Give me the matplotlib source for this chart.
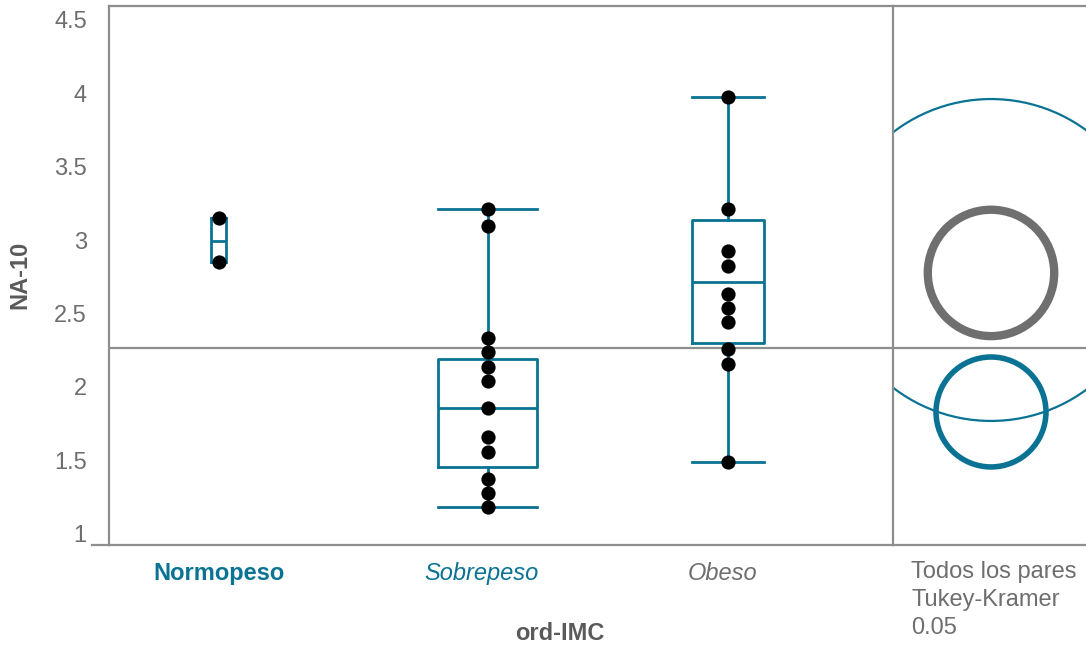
import numpy as np
import matplotlib
matplotlib.use("Agg")
from matplotlib import pyplot as plt
from matplotlib.patches import Circle
from matplotlib.lines import Line2D
import matplotlib.transforms as mtransforms

plt.rcParams['font.family'] = ['Liberation Sans', 'DejaVu Sans']

# datos
grupos = ["Normopeso", "Sobrepeso", "Obeso"]
normopeso = [3.148, 2.848]
sobrepeso = [3.209, 3.097, 2.331, 2.236, 2.138, 2.043, 1.855, 1.658, 1.560, 1.374, 1.277, 1.186]
obeso = [3.975, 3.211, 2.925, 2.825, 2.633, 2.535, 2.442, 2.256, 2.154, 1.492]

# cuartiles de las cajas (q1, mediana, q3, bigote inf, bigote sup)
q1 = [2.848, 1.458, 2.297]
mediana = [2.995, 1.855, 2.716]
q3 = [3.148, 2.188, 3.136]
bigote_inf = [2.848, 1.186, 1.492]
bigote_sup = [3.148, 3.209, 3.975]

media_global = 2.265

# circulos de comparacion (centro, radio)
circ_centro = [2.864, 2.776, 1.830]
circ_radio = [1.095, 0.430, 0.374]

yticks = [1, 1.5, 2, 2.5, 3, 3.5, 4, 4.5]
ytick_labels = ["1", "1.5", "2", "2.5", "3", "3.5", "4", "4.5"]

azul = '#0a7393'
gris_linea = '#8e8e8e'
gris_texto = '#6e6e6e'

W, H = 1086, 649
fig = plt.figure(figsize=(W/100, H/100), dpi=100)

x0, x1, xr, ytop, ybot = 109, 893, 1086, 6, 545
ax = fig.add_axes([x0/W, 1-ybot/H, (x1-x0)/W, (ybot-ytop)/H])
ax2 = fig.add_axes([x1/W, 1-ybot/H, (xr-x1)/W, (ybot-ytop)/H])

ylim = (0.925, 4.592)
pos = [0.140, 0.483, 0.790]
anchos = [0.019, 0.126, 0.092]

stats = []
for i in range(3):
    stats.append(dict(q1=q1[i], med=mediana[i], q3=q3[i],
                      whislo=bigote_inf[i], whishi=bigote_sup[i], label=grupos[i]))

lp = dict(color=azul, linewidth=2.0)
ax.bxp(stats, positions=pos, widths=anchos, capwidths=anchos, showfliers=False,
       boxprops=lp, whiskerprops=lp, capprops=lp, medianprops=lp, manage_ticks=False)

for p, vals in zip(pos, [normopeso, sobrepeso, obeso]):
    ax.scatter([p]*len(vals), vals, s=105, color='black', zorder=5, linewidths=0)

ax.axhline(media_global, color=gris_linea, lw=1.6, zorder=1)
ax.set_xlim(0, 1)
ax.set_ylim(*ylim)
ax.set_yticks(yticks, ytick_labels)
ax.tick_params(axis='y', length=0, pad=16, labelsize=17, labelcolor=gris_texto)
ax.set_xticks(pos, grupos)
ax.tick_params(axis='x', length=0, pad=12, labelsize=17)
estilos = [('bold', 'normal', azul, 0), ('normal', 'italic', azul, -6), ('normal', 'italic', gris_texto, -6)]
for lab, (w, st, c, dx) in zip(ax.get_xticklabels(), estilos):
    lab.set_fontweight(w)
    lab.set_fontstyle(st)
    lab.set_color(c)
    lab.set_transform(lab.get_transform() + mtransforms.ScaledTranslation(dx/100, 0, fig.dpi_scale_trans))

for a in [ax, ax2]:
    for s in a.spines.values():
        s.set_color(gris_linea)
        s.set_linewidth(1.6)
    a.spines['right'].set_visible(False)
    a.set_facecolor('white')

# panel derecho con los circulos
ppu = (ybot-ytop)/(ylim[1]-ylim[0])
ax2.set_xlim(0, (xr-x1)/ppu)
ax2.set_ylim(*ylim)
ax2.set_xticks([])
ax2.set_yticks([])
ax2.axhline(media_global, color=gris_linea, lw=1.6, zorder=1)
cx = 98/ppu
colores = [azul, '#6f6f6f', azul]
grosores = [1.6, 6.0, 4.0]
for c, r, col, lw in zip(circ_centro, circ_radio, colores, grosores):
    ax2.add_patch(Circle((cx, c), r, fill=False, edgecolor=col, lw=lw))

# prolongacion del eje inferior a la izquierda
fig.add_artist(Line2D([92/W, x0/W], [1-ybot/H, 1-ybot/H], color=gris_linea, lw=1.6))

fig.text(20/W, 1-275/H, "NA-10", rotation=90, ha='center', va='center',
         fontsize=17, fontweight='bold', color='#5a5a5a')
fig.text(560/W, 1-633/H, "ord-IMC", ha='center', va='center',
         fontsize=17, fontweight='bold', color='#5a5a5a')
fig.text(911/W, 1-561/H, "Todos los pares\nTukey-Kramer\n0.05", ha='left', va='top',
         fontsize=17, color=gris_texto, linespacing=1.34)

fig.savefig("out.png", dpi=100)
